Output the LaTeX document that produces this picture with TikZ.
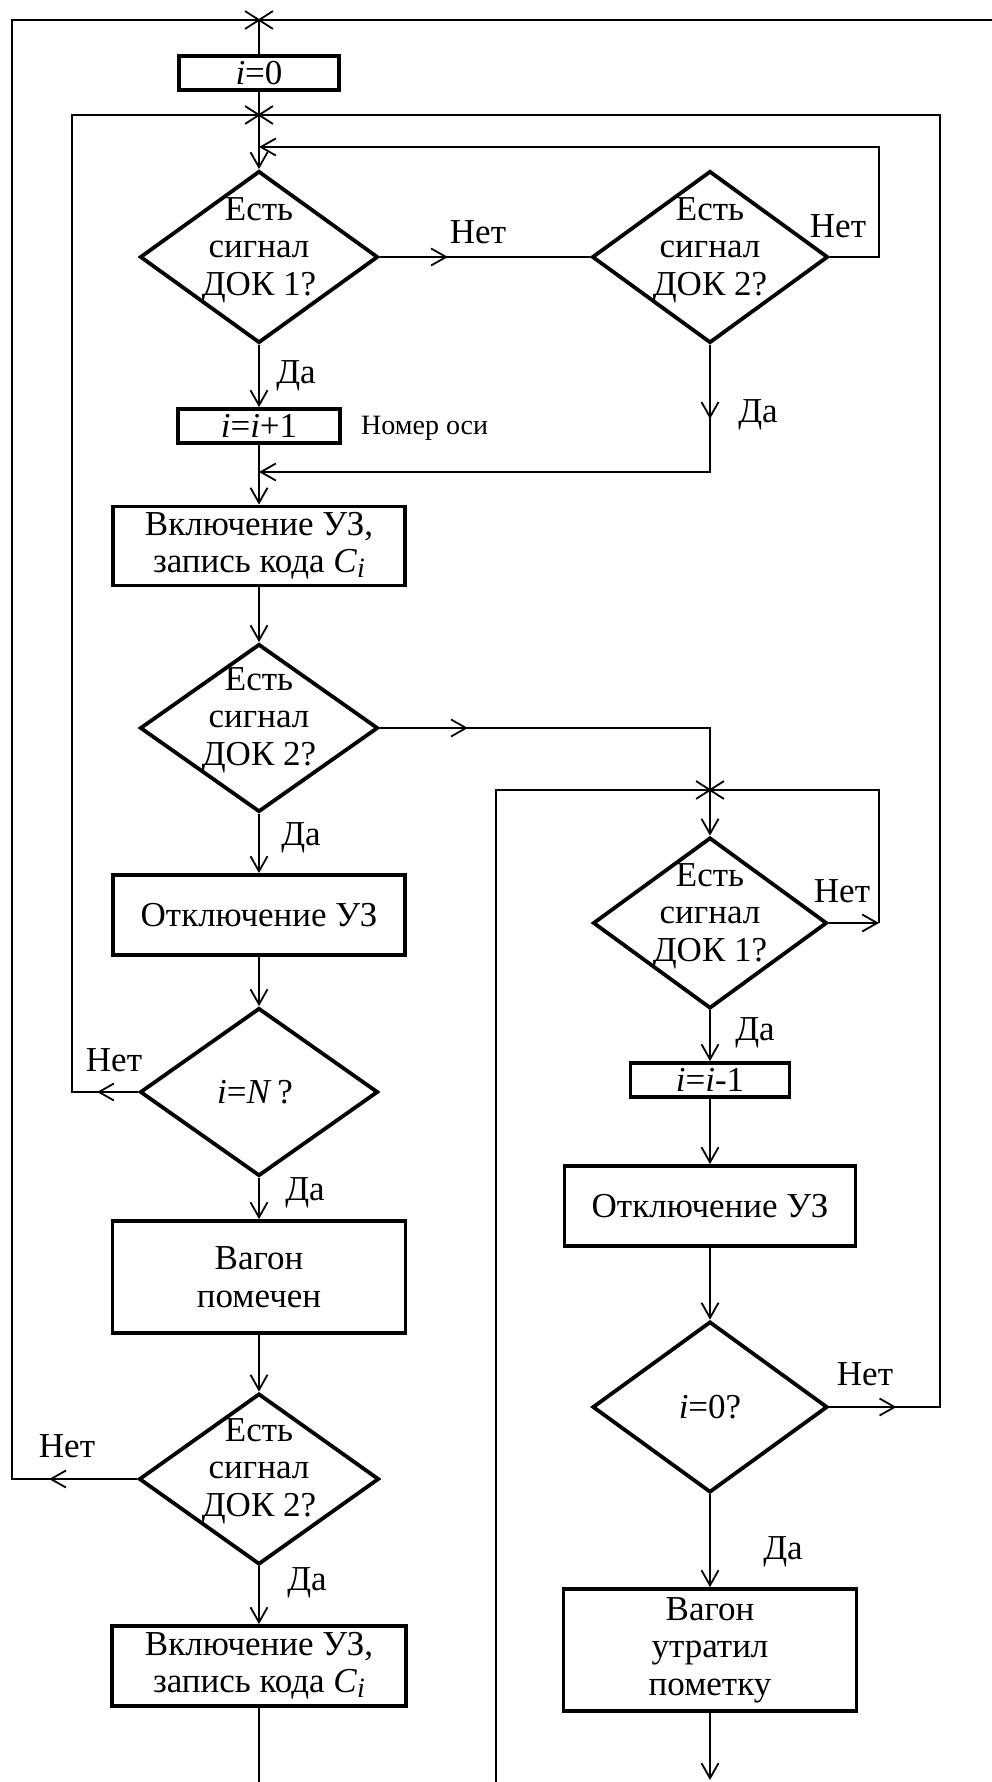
\documentclass[tikz,border=0pt]{standalone}
\usepackage{fontspec}
\setmainfont{Liberation Serif}
\usetikzlibrary{arrows.meta,shapes.geometric,shapes.misc,decorations.markings}

\newcommand\fmain{\fontsize{35}{37.5}\selectfont}
\newcommand\fsmall{\fontsize{28}{30}\selectfont}
\newcommand\Ci{\textit{C}\raisebox{-0.12em}{\fontsize{28}{28}\selectfont\textit{i}}}

\tikzset{
  >={Straight Barb[length=15pt,width=17pt]},
  conn/.style={line width=1.8pt},
  flow/.style={conn,->},
  box/.style={draw,rectangle,line width=3.8pt,inner sep=0pt,align=center,font=\fmain},
  decision/.style={draw,diamond,line width=3.8pt,inner sep=0pt},
  dtext/.style={align=center,inner sep=0pt,font=\fmain},
  lbl/.style={inner sep=0pt,font=\fmain},
  junction/.style={draw,cross out,line width=1.8pt,minimum width=26pt,minimum height=16pt,inner sep=0pt},
  midarrow/.style={postaction={decorate,decoration={markings,mark=at position #1 with {\arrow{>}}}}}
}

\begin{document}
\begin{tikzpicture}[x=1pt,y=-1pt]
\useasboundingbox (0,0) rectangle (992,1782);

% left column
\node[box,minimum width=160pt,minimum height=34pt] (n0) at (259,73) {\textit{i}=0};
\node[decision,minimum width=238pt,minimum height=172pt] (d1) at (259,257) {};
\node[dtext] (d1t) at (259,250) {Есть\\сигнал\\ДОК 1?};
\node[box,minimum width=162pt,minimum height=34pt] (n1) at (259,426) {\textit{i}=\textit{i}+1};
\node[box,minimum width=292pt,minimum height=79pt] (b1) at (259,546) {Включение УЗ,\\запись кода \Ci};
\node[decision,minimum width=238pt,minimum height=168pt] (d3) at (259,728) {};
\node[dtext] (d3t) at (259,720) {Есть\\сигнал\\ДОК 2?};
\node[box,minimum width=292pt,minimum height=80pt] (b2) at (259,915) {Отключение УЗ};
\node[decision,minimum width=238pt,minimum height=168pt] (d6) at (259,1092) {};
\node[dtext] (d6t) at (255,1092) {\textit{i}=\textit{N}\,?};
\node[box,minimum width=293pt,minimum height=112pt] (b3) at (259,1277) {Вагон\\помечен};
\node[decision,minimum width=240pt,minimum height=171pt] (d7) at (259,1479) {};
\node[dtext] (d7t) at (259,1471) {Есть\\сигнал\\ДОК 2?};
\node[box,minimum width=294pt,minimum height=80pt] (b4) at (259,1666) {Включение УЗ,\\запись кода \Ci};

% right column
\node[decision,minimum width=236pt,minimum height=172pt] (d2) at (710,257) {};
\node[dtext] (d2t) at (710,250) {Есть\\сигнал\\ДОК 2?};
\node[decision,minimum width=234pt,minimum height=171pt] (d4) at (710,923) {};
\node[dtext] (d4t) at (710,916) {Есть\\сигнал\\ДОК 1?};
\node[box,minimum width=159pt,minimum height=34pt] (n2) at (710,1080) {\textit{i}=\textit{i}-1};
\node[box,minimum width=291pt,minimum height=80pt] (b5) at (710,1206) {Отключение УЗ};
\node[decision,minimum width=235pt,minimum height=171pt] (d5) at (710,1407) {};
\node[dtext] (d5t) at (710,1407) {\textit{i}=0?};
\node[box,minimum width=293pt,minimum height=122pt] (b6) at (710,1650) {Вагон\\утратил\\пометку};

% junction points
\node[junction] (j1) at (259,20) {};
\node[junction] (j2) at (259,115) {};
\node[junction] (j3) at (710,790) {};

% corner and end points
\coordinate (tr) at (992,20);
\coordinate (c7) at (12,1479);
\coordinate (c6) at (72,1092);
\coordinate (c5) at (940,1407);
\coordinate (c2) at (879,257);
\coordinate (c4) at (879,923);
\coordinate (m1) at (259,147);
\coordinate (m2) at (259,472);
\coordinate (e1) at (259,1782);
\coordinate (e2) at (710,1780);
\coordinate (e4) at (496,1782);

% outer loops
\draw[conn,midarrow=88pt] (d7.west) -- (c7) |- (tr);
\draw[conn] (j1.center) -- (n0.north);
\draw[flow] (n0.south) -- (d1.north);
\draw[conn,midarrow=41pt] (d6.west) -- (c6) |- (j2.center);
\draw[conn,midarrow=67pt] (d5.east) -- (c5) |- (j2.center);

% first decisions
\draw[conn,midarrow=68pt] (d1.east) -- (d2.west);
\draw[flow] (d2.east) -- (c2) |- (m1);
\draw[flow] (d1.south) -- (n1.north);
\draw[flow,midarrow=74pt] (d2.south) |- (m2);
\draw[flow] (n1.south) -- (b1.north);
\draw[flow] (b1.south) -- (d3.north);

% branch to the right column
\draw[flow,midarrow=88pt] (d3.east) -| (d4.north);
\draw[conn] (e4) |- (j3.center);
\draw[flow] (d4.east) -- (c4);
\draw[conn] (c4) |- (j3.center);
\draw[flow] (d4.south) -- (n2.north);
\draw[flow] (n2.south) -- (b5.north);
\draw[flow] (b5.south) -- (d5.north);
\draw[flow] (d5.south) -- (b6.north);
\draw[flow] (b6.south) -- (e2);

% left column flow
\draw[flow] (d3.south) -- (b2.north);
\draw[flow] (b2.south) -- (d6.north);
\draw[flow] (d6.south) -- (b3.north);
\draw[flow] (b3.south) -- (d7.north);
\draw[flow] (d7.south) -- (b4.north);
\draw[conn] (b4.south) -- (e1);

% branch labels
\node[lbl] (l1) at (478,232) {Нет};
\node[lbl] (l2) at (838,226) {Нет};
\node[lbl] (l3) at (296,376) {Да};
\node[lbl] (l4) at (758,415) {Да};
\node[lbl,font=\fsmall,anchor=west] (l5) at (361,428) {Номер оси};
\node[lbl] (l6) at (301,838) {Да};
\node[lbl] (l7) at (842,891) {Нет};
\node[lbl] (l8) at (755,1033) {Да};
\node[lbl] (l9) at (114,1060) {Нет};
\node[lbl] (l10) at (305,1193) {Да};
\node[lbl] (l11) at (865,1374) {Нет};
\node[lbl] (l12) at (783,1552) {Да};
\node[lbl] (l13) at (67,1446) {Нет};
\node[lbl] (l14) at (307,1583) {Да};
\end{tikzpicture}
\end{document}
